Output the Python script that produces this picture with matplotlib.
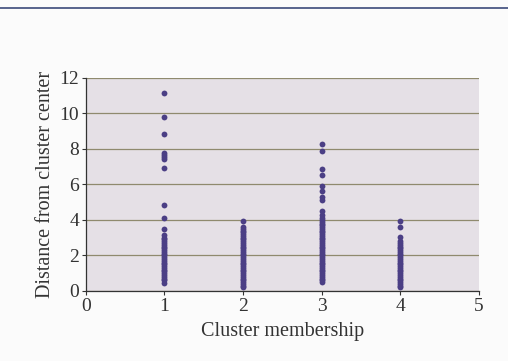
import matplotlib
matplotlib.use("Agg")
import matplotlib.pyplot as plt
from matplotlib.lines import Line2D

# Distances from cluster center
cluster1 = [11.15, 9.8, 8.85, 7.75, 7.65, 7.55, 7.45, 6.9, 4.85, 4.1, 3.5, 3.15,
            3.0, 2.9, 2.8, 2.7, 2.6, 2.5, 2.4, 2.3, 2.2, 2.1, 2.0, 1.9, 1.8, 1.7,
            1.6, 1.5, 1.4, 1.3, 1.2, 1.1, 1.0, 0.9, 0.8, 0.7, 0.6, 0.45]
cluster2 = [3.95, 3.6, 3.5, 3.4, 3.3, 3.2, 3.1, 3.0, 2.9, 2.8, 2.7, 2.6, 2.5,
            2.4, 2.3, 2.2, 2.1, 2.0, 1.9, 1.8, 1.7, 1.6, 1.5, 1.4, 1.3, 1.2,
            1.1, 1.0, 0.9, 0.8, 0.7, 0.6, 0.5, 0.4, 0.3, 0.25]
cluster3 = [8.3, 7.9, 6.85, 6.55, 5.9, 5.65, 5.3, 5.1, 4.5, 4.3, 4.1, 4.0, 3.9,
            3.8, 3.7, 3.6, 3.5, 3.4, 3.3, 3.2, 3.1, 3.0, 2.9, 2.8, 2.7, 2.6,
            2.5, 2.4, 2.3, 2.2, 2.1, 2.0, 1.9, 1.8, 1.7, 1.6, 1.5, 1.4, 1.3,
            1.2, 1.1, 1.0, 0.9, 0.8, 0.7, 0.6, 0.5]
cluster4 = [3.95, 3.6, 3.05, 2.8, 2.7, 2.6, 2.5, 2.4, 2.3, 2.2, 2.1, 2.0, 1.9,
            1.8, 1.7, 1.6, 1.5, 1.4, 1.3, 1.2, 1.1, 1.0, 0.9, 0.8, 0.7, 0.6,
            0.5, 0.4, 0.3, 0.25]
clusters = [cluster1, cluster2, cluster3, cluster4]
x_ticks = [0, 1, 2, 3, 4, 5]
y_ticks = [0, 2, 4, 6, 8, 10, 12]

serif = ["Liberation Serif", "DejaVu Serif"]

fig = plt.figure(figsize=(5.08, 3.61), dpi=100)
fig.patch.set_facecolor("#fbfbfb")
ax = fig.add_axes([0.169, 0.194, 0.774, 0.590])
ax.set_facecolor("#e5e0e6")

for i, vals in enumerate(clusters, start=1):
    ax.plot([i] * len(vals), vals, linestyle="none", marker="o",
            markersize=4.2, markeredgewidth=0, color="#4b3f85", zorder=3)

ax.set_xlim(0, 5)
ax.set_ylim(0, 12)
ax.set_xticks(x_ticks)
ax.set_yticks(y_ticks)
ax.yaxis.grid(True, color="#8f8a6e", linewidth=0.9)
ax.set_axisbelow(True)
for s in ["top", "right"]:
    ax.spines[s].set_visible(False)
for s in ["left", "bottom"]:
    ax.spines[s].set_color("#333333")
    ax.spines[s].set_linewidth(0.9)
ax.tick_params(axis="both", direction="out", length=3, width=0.8,
               color="#333333", labelsize=14, labelcolor="#333333", pad=2)
for lab in ax.get_xticklabels() + ax.get_yticklabels():
    lab.set_family(serif)

ax.set_xlabel("Cluster membership", fontsize=14.5, family=serif,
              color="#333333", labelpad=5)
ax.set_ylabel("Distance from cluster center", fontsize=14.5, family=serif,
              color="#333333", labelpad=3)

fig.add_artist(Line2D([0, 1], [1 - 8 / 361, 1 - 8 / 361],
                      transform=fig.transFigure, color="#3c4a7a", linewidth=1.2))

fig.savefig("out.png", dpi=100, facecolor=fig.get_facecolor())
